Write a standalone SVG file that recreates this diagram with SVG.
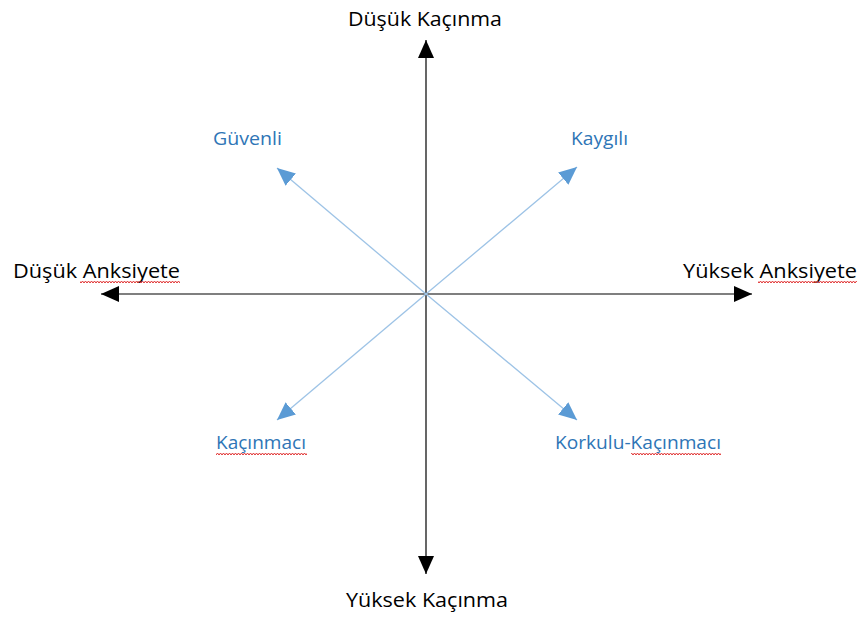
<svg xmlns="http://www.w3.org/2000/svg" width="863" height="617" viewBox="0 0 863 617">
<style>
.ax{stroke:#000;stroke-width:1.2;fill:none}
.bl{stroke:#9DC3E6;stroke-width:1.3;fill:none}
.t{font-family:"Open Sans","Liberation Sans",sans-serif;font-size:20px;fill:#000}
.b{font-family:"Open Sans","Liberation Sans",sans-serif;font-size:18px;fill:#2E75B6}
</style>
<defs>
<marker id="ka" markerUnits="userSpaceOnUse" markerWidth="20" markerHeight="16" refX="18" refY="8" orient="auto"><path d="M0,0 L18,8 L0,16 Z" fill="#000"/></marker>
<marker id="ba" markerUnits="userSpaceOnUse" markerWidth="20" markerHeight="16" refX="18" refY="8" orient="auto"><path d="M0,0 L18,8 L0,16 Z" fill="#5B9BD5"/></marker>
<pattern id="wv" width="6" height="4" patternUnits="userSpaceOnUse"><path d="M0,3 L1.5,1 L3,3 L4.5,1 L6,3" stroke="#E03030" fill="none" stroke-width="1"/></pattern>
</defs>
<g id="connectors">
<line class="ax" x1="426" y1="294" x2="426" y2="40" marker-end="url(#ka)"/>
<line class="ax" x1="426" y1="294" x2="426" y2="574" marker-end="url(#ka)"/>
<line class="ax" x1="426" y1="294" x2="101" y2="294" marker-end="url(#ka)"/>
<line class="ax" x1="426" y1="294" x2="752" y2="294" marker-end="url(#ka)"/>
<line class="bl" x1="426" y1="294" x2="277" y2="168" marker-end="url(#ba)"/>
<line class="bl" x1="426" y1="294" x2="577" y2="167" marker-end="url(#ba)"/>
<line class="bl" x1="426" y1="294" x2="277" y2="420" marker-end="url(#ba)"/>
<line class="bl" x1="426" y1="294" x2="577" y2="420" marker-end="url(#ba)"/>
</g>
<g id="n-top"><text class="t" x="425" y="26" text-anchor="middle" textLength="154" lengthAdjust="spacingAndGlyphs">Düşük Kaçınma</text></g>
<g id="n-bottom"><text class="t" x="427" y="607" text-anchor="middle" textLength="162" lengthAdjust="spacingAndGlyphs">Yüksek Kaçınma</text></g>
<g id="n-left"><text class="t" x="13" y="278" textLength="167" lengthAdjust="spacingAndGlyphs">Düşük Anksiyete</text>
<rect x="80" y="281" width="100" height="4" fill="url(#wv)"/></g>
<g id="n-right"><text class="t" x="683" y="278" textLength="174" lengthAdjust="spacingAndGlyphs">Yüksek Anksiyete</text>
<rect x="758" y="280" width="99" height="4" fill="url(#wv)"/></g>
<g id="n-guvenli"><text class="b" x="213" y="145" textLength="69" lengthAdjust="spacingAndGlyphs">Güvenli</text></g>
<g id="n-kaygili"><text class="b" x="571" y="145" textLength="57" lengthAdjust="spacingAndGlyphs">Kaygılı</text></g>
<g id="n-kacinmaci"><text class="b" x="216" y="449" textLength="90" lengthAdjust="spacingAndGlyphs">Kaçınmacı</text>
<rect x="216" y="451" width="91" height="4" fill="url(#wv)"/></g>
<g id="n-korkulu"><text class="b" x="555" y="449" textLength="166" lengthAdjust="spacingAndGlyphs">Korkulu-Kaçınmacı</text>
<rect x="631" y="451" width="90" height="4" fill="url(#wv)"/></g>
</svg>
